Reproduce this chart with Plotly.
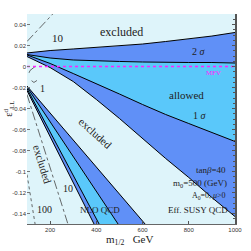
import plotly.graph_objects as go

# ---- data ----
m_half = [100, 200, 300, 400, 500, 600, 700, 800, 900, 1000]
# upper allowed structure
eps_2s_top = [0.0129, 0.0152, 0.0167, 0.0181, 0.0195, 0.0214, 0.0238, 0.0262, 0.0290, 0.0324]
eps_1s_top = [0.0114, 0.0081, 0.0062, 0.0052, 0.0048, 0.0043, 0.0038, 0.0038, 0.0038, 0.0033]
eps_1s_bot = [0.0110, 0.0029, -0.0067, -0.0162, -0.0262, -0.0362, -0.0457, -0.0543, -0.0629, -0.0714]
eps_2s_bot = [0.0095, -0.0010, -0.0143, -0.0314, -0.0495, -0.0686, -0.0876, -0.1057, -0.1248, -0.1429]

# lower (NLO QCD) allowed structure: boundary lines
nlo_2s_left_m = [100, 238, 390]
nlo_2s_left_e = [-0.0229, -0.0838, -0.150]
nlo_1s_left_m = [100, 252, 412]
nlo_1s_left_e = [-0.0210, -0.0838, -0.150]
nlo_1s_right_m = [100, 295, 494]
nlo_1s_right_e = [-0.0195, -0.0838, -0.150]
nlo_2s_right_m = [100, 354, 611]
nlo_2s_right_e = [-0.0186, -0.0838, -0.150]

# contour lines in excluded regions
c10_top_m = [100, 220]
c10_top_e = [0.0238, 0.0520]
c1_m = [135, 113, 106, 113, 130, 143]
c1_e = [0.0000, -0.0038, -0.0076, -0.0124, -0.0152, -0.0133]
c10_low_m = [100, 277]
c10_low_e = [-0.0267, -0.150]
c100_m = [100, 135]
c100_e = [-0.1029, -0.150]

mfv_m = [100, 1000]
mfv_e = [0.0, 0.0]

x_ticks = [200, 400, 600, 800, 1000]
y_ticks = [0.04, 0.02, 0, -0.02, -0.04, -0.06, -0.08, -0.1, -0.12, -0.14]
y_tick_text = ["0.04", "0.02", "0", "-0.02", "-0.04", "-0.06", "-0.08", "-0.1", "-0.12", "-0.14"]

# ---- styles ----
BG = "#def4fa"
C1 = "#5ac8fa"
C2 = "#6090f7"
SERIF = "Liberation Serif"

fig = go.Figure()

def poly(xa, ya, xb, yb, color):
    fig.add_trace(go.Scatter(x=list(xa) + list(xb)[::-1], y=list(ya) + list(yb)[::-1],
                             fill="toself", fillcolor=color, mode="none",
                             hoverinfo="skip", showlegend=False))

def line(xa, ya, color="black", width=1.0, dash="solid"):
    fig.add_trace(go.Scatter(x=xa, y=ya, mode="lines",
                             line=dict(color=color, width=width, dash=dash),
                             hoverinfo="skip", showlegend=False))

# upper structure
poly(m_half, eps_2s_top, m_half, eps_2s_bot, C2)
poly(m_half, eps_1s_top, m_half, eps_1s_bot, C1)
for e in (eps_2s_top, eps_1s_top, eps_1s_bot, eps_2s_bot):
    line(m_half, e)

# lower structure
poly(nlo_2s_left_m, nlo_2s_left_e, nlo_2s_right_m, nlo_2s_right_e, C2)
poly(nlo_1s_left_m, nlo_1s_left_e, nlo_1s_right_m, nlo_1s_right_e, C1)
for xm, ye in ((nlo_2s_left_m, nlo_2s_left_e), (nlo_1s_left_m, nlo_1s_left_e),
               (nlo_1s_right_m, nlo_1s_right_e), (nlo_2s_right_m, nlo_2s_right_e)):
    line(xm, ye)

# contours
line(c10_top_m, c10_top_e, "#444", 0.8, "dashdot")
line(c1_m, c1_e, "#444", 0.8, "dash")
line(c10_low_m, c10_low_e, "#444", 0.8, "dashdot")
line(c100_m, c100_e, "#444", 0.8, "dot")

# MFV line
line(mfv_m, mfv_e, "#ff22ff", 1.3, "dot")

def txt(x, y, s, size=11, angle=0, color="#222", xanchor="center", family=SERIF):
    fig.add_annotation(x=x, y=y, text=s, showarrow=False, textangle=angle,
                       font=dict(family=family, size=size, color=color),
                       xanchor=xanchor, yanchor="middle")

txt(234, 0.0276, "10", 11)
txt(511, 0.0324, "excluded", 12)
txt(844, 0.0143, "2 <i>σ</i>", 10)
txt(905, -0.0062, "MFV", 7, color="#ff22ff")
txt(792, -0.0271, "allowed", 11)
txt(849, -0.0471, "1 <i>σ</i>", 10)
txt(165, -0.0209, "1", 10)
txt(394, -0.0638, "excluded", 11, angle=42)
txt(165, -0.0933, "excluded", 11, angle=73)
txt(277, -0.1162, "10", 10)
txt(174, -0.1362, "100", 10)
txt(416, -0.1362, "NLO QCD", 9)
txt(978, -0.1370, "Eff. SUSY QCD", 9, xanchor="right")
txt(968, -0.1229, "A<sub>0</sub>=0, <i>μ</i>>0", 8, xanchor="right")
txt(975, -0.1114, "m<sub>0</sub>=500 (GeV)", 9, xanchor="right")
txt(968, -0.0990, "tan<i>β</i>=40", 9, xanchor="right")

# axis titles as paper annotations
fig.add_annotation(x=0.495, y=-0.076, xref="paper", yref="paper", showarrow=False,
                   text="m<sub>1/2</sub>   GeV", xanchor="center", yanchor="middle",
                   font=dict(family=SERIF, size=11, color="#222"))
fig.add_annotation(x=-0.085, y=0.55, xref="paper", yref="paper", showarrow=False,
                   text="ε<sup>d</sup><sub>LL</sub>", textangle=-90,
                   xanchor="center", yanchor="middle",
                   font=dict(family=SERIF, size=10, color="#222"))

fig.update_layout(
    width=251, height=251,
    margin=dict(l=27, r=16, t=14, b=27),
    paper_bgcolor="white", plot_bgcolor=BG,
    showlegend=False,
    xaxis=dict(range=[100, 1000], tickvals=x_ticks, ticks="inside", ticklen=3,
               tickcolor="#555", showgrid=False, zeroline=False, automargin=False,
               showline=True, linecolor="#666", linewidth=1,
               tickfont=dict(size=6, family="Liberation Sans", color="#333")),
    yaxis=dict(range=[-0.15, 0.05], tickvals=y_ticks, ticktext=y_tick_text,
               ticks="inside", ticklen=3, tickcolor="#777", automargin=False,
               showgrid=False, zeroline=False, showline=False,
               tickfont=dict(size=6, family="Liberation Sans", color="#333")),
    yaxis2=dict(overlaying="y", side="right", matches="y", range=[-0.15, 0.05],
                showticklabels=False, ticks="inside", ticklen=3, tickcolor="#555",
                tickvals=y_ticks, showgrid=False, zeroline=False, automargin=False,
                showline=True, linecolor="#555", linewidth=1.5,
                minor=dict(ticks="inside", ticklen=2, dtick=0.005, tickcolor="#555")),
)
# dummy trace to activate the right axis
fig.add_trace(go.Scatter(x=[100], y=[0], yaxis="y2", mode="none", showlegend=False, hoverinfo="skip"))

fig.write_html("out.html", config={"displayModeBar": False},
               post_script="document.body.style.margin='0';document.body.style.padding='0';")
